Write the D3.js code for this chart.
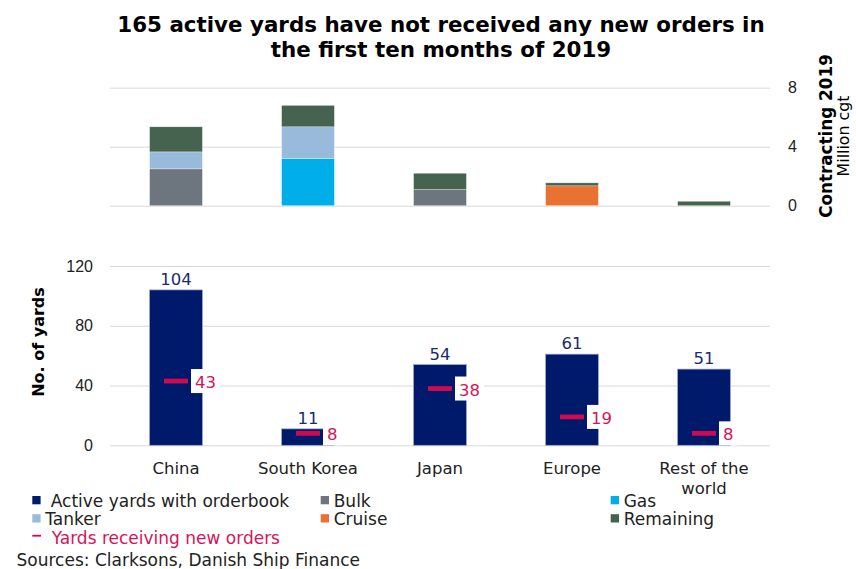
<!DOCTYPE html>
<html>
<head>
<meta charset="utf-8">
<script src="https://cdn.jsdelivr.net/npm/d3@7"></script>
<style>
  body { margin: 0; background: #fff; }
  svg { font-family: "DejaVu Sans", Verdana, sans-serif; }
  .grid line { stroke: #d9d9d9; }
  .grid path { display: none; }
  .grid text { font-size: 16px; fill: #222; }
</style>
</head>
<body>
<div class="chart-area"></div>
<script>
// ---- Data ----
const regions = ["China", "South Korea", "Japan", "Europe", "Rest of the world"];
const regionLabels = [["China"], ["South Korea"], ["Japan"], ["Europe"], ["Rest of the", "world"]];
const activeYards = [104, 11, 54, 61, 51];
const newOrderYards = [43, 8, 38, 19, 8];

// contracting 2019, million cgt
const bulk = [2.5, 0, 1.1, 0, 0];
const gas = [0, 3.2, 0, 0, 0];
const tanker = [1.15, 2.15, 0, 0, 0];
const cruise = [0, 0, 0, 1.35, 0];
const remaining = [1.7, 1.45, 1.1, 0.2, 0.3];

const segmentNames = ["Bulk", "Gas", "Tanker", "Cruise", "Remaining"];
const contractTicks = [0, 4, 8];
const yardTicks = [0, 40, 80, 120];

// ---- Sizes ----
const svgWidth = 856, svgHeight = 569;
const plotLeft = 110, plotRight = 770;

const segColor = {
    Bulk: "#6d757f",
    Gas: "#00aeea",
    Tanker: "#99bbdb",
    Cruise: "#e97132",
    Remaining: "#45634e"
};
const navy = "#001a6b";
const red = "#cf0a50";

const svg = d3.select(".chart-area").append("svg")
    .attr("width", svgWidth)
    .attr("height", svgHeight);

// Title
svg.append("text")
    .attr("x", 441).attr("y", 32)
    .attr("text-anchor", "middle")
    .style("font-size", "21.4px").style("font-weight", "bold")
    .text("165 active yards have not received any new orders in");
svg.append("text")
    .attr("x", 441).attr("y", 57)
    .attr("text-anchor", "middle")
    .style("font-size", "21.4px").style("font-weight", "bold")
    .text("the first ten months of 2019");

// Shared band scale
const x = d3.scaleBand()
    .domain(regions)
    .range([plotLeft, plotRight])
    .paddingInner(0.6)
    .paddingOuter(0.3);

// ---- Top: stacked contracting ----
const yTop = d3.scaleLinear().domain([0, 8]).range([205.7, 87.7]);

svg.append("g")
    .attr("class", "grid")
    .attr("transform", `translate(${plotRight},0)`)
    .call(d3.axisRight(yTop).tickValues(contractTicks)
        .tickSize(-(plotRight - plotLeft)).tickPadding(18));

const stackRows = regions.map((r, i) => ({
    region: r,
    Bulk: bulk[i], Gas: gas[i], Tanker: tanker[i], Cruise: cruise[i], Remaining: remaining[i]
}));
const stacked = d3.stack().keys(segmentNames)(stackRows);

svg.append("g").selectAll("g")
    .data(stacked)
    .join("g")
    .attr("fill", d => segColor[d.key])
    .selectAll("rect")
    .data(d => d.filter(s => s[1] - s[0] > 0))
    .join("rect")
    .attr("x", d => x(d.data.region))
    .attr("width", x.bandwidth())
    .attr("y", d => yTop(d[1]))
    .attr("height", d => yTop(d[0]) - yTop(d[1]))
    .attr("stroke", "#ffffff")
    .attr("stroke-opacity", 0.5)
    .attr("stroke-width", 0.6);

// right axis titles
svg.append("text")
    .attr("transform", "translate(832,136) rotate(-90)")
    .attr("text-anchor", "middle")
    .style("font-size", "16.8px").style("font-weight", "bold")
    .text("Contracting 2019");
svg.append("text")
    .attr("transform", "translate(849,136) rotate(-90)")
    .attr("text-anchor", "middle")
    .style("font-size", "15.8px")
    .text("Million cgt");

// ---- Bottom: yards ----
const yBot = d3.scaleLinear().domain([0, 120]).range([445.3, 266]);

svg.append("g")
    .attr("class", "grid")
    .attr("transform", `translate(${plotLeft},0)`)
    .call(d3.axisLeft(yBot).tickValues(yardTicks)
        .tickSize(-(plotRight - plotLeft)).tickPadding(17));

svg.append("text")
    .attr("transform", "translate(44,342) rotate(-90)")
    .attr("text-anchor", "middle")
    .style("font-size", "16px").style("font-weight", "bold")
    .text("No. of yards");

const yardData = regions.map((r, i) => ({ region: r, active: activeYards[i], orders: newOrderYards[i] }));

svg.append("g").selectAll("rect")
    .data(yardData)
    .join("rect")
    .attr("x", d => x(d.region))
    .attr("width", x.bandwidth())
    .attr("y", d => yBot(d.active))
    .attr("height", d => yBot(0) - yBot(d.active))
    .attr("fill", navy)
    .attr("stroke", "#9aa6c8")
    .attr("stroke-width", 0.7);

// value labels
svg.append("g").selectAll("text")
    .data(yardData)
    .join("text")
    .attr("x", d => x(d.region) + x.bandwidth() / 2)
    .attr("y", d => yBot(d.active) - 5)
    .attr("text-anchor", "middle")
    .style("font-size", "16.5px")
    .attr("fill", "#1b2a70")
    .text(d => d.active);

// new order markers
svg.append("g").selectAll("rect")
    .data(yardData)
    .join("rect")
    .attr("x", d => x(d.region) + x.bandwidth() / 2 - 12)
    .attr("y", d => yBot(d.orders) - 2.4)
    .attr("width", 24)
    .attr("height", 4.8)
    .attr("fill", red);

const orderLabels = svg.append("g").selectAll("g")
    .data(yardData)
    .join("g")
    .attr("transform", d => `translate(${x(d.region) + x.bandwidth() / 2 + 15},${yBot(d.orders)})`);

orderLabels.append("text")
    .attr("x", 4)
    .attr("y", 7)
    .style("font-size", "16.5px")
    .attr("fill", "#d4145a")
    .text(d => d.orders);

orderLabels.insert("rect", "text")
    .attr("x", 0)
    .attr("y", -12)
    .attr("height", 24)
    .attr("width", function() {
        return this.parentNode.querySelector("text").getComputedTextLength() + 8;
    })
    .attr("fill", "#fff");

// x labels
svg.append("g").selectAll("text")
    .data(regions)
    .join("text")
    .attr("x", d => x(d) + x.bandwidth() / 2)
    .attr("y", 474)
    .attr("text-anchor", "middle")
    .style("font-size", "16.5px")
    .attr("fill", "#222")
    .each(function(d, i) {
        d3.select(this).selectAll("tspan")
            .data(regionLabels[i])
            .join("tspan")
            .attr("x", x(d) + x.bandwidth() / 2)
            .attr("dy", (t, j) => j === 0 ? 0 : 19.5)
            .text(t => t);
    });

// ---- Legend ----
const legendItems = [
    { label: " Active yards with orderbook", color: navy, col: 0, row: 0 },
    { label: "Bulk", color: segColor.Bulk, col: 1, row: 0 },
    { label: "Gas", color: segColor.Gas, col: 2, row: 0 },
    { label: "Tanker", color: segColor.Tanker, col: 0, row: 1 },
    { label: "Cruise", color: segColor.Cruise, col: 1, row: 1 },
    { label: "Remaining", color: segColor.Remaining, col: 2, row: 1 }
];
const legendCols = [32.3, 320.7, 610.7];
const legendRows = [496, 514.2];

const legend = svg.append("g").attr("class", "legend");
const li = legend.selectAll("g")
    .data(legendItems)
    .join("g")
    .attr("transform", d => `translate(${legendCols[d.col]},${legendRows[d.row]})`);
li.append("rect")
    .attr("width", 8.3).attr("height", 8.3)
    .attr("fill", d => d.color);
li.append("text")
    .attr("x", 13)
    .attr("y", 10.5)
    .style("font-size", "17px")
    .style("white-space", "pre")
    .attr("xml:space", "preserve")
    .attr("fill", "#222")
    .text(d => d.label);

legend.append("rect")
    .attr("x", 32.3).attr("y", 534.8)
    .attr("width", 8.7).attr("height", 1.8)
    .attr("fill", red);
legend.append("text")
    .attr("x", 51.7).attr("y", 543.5)
    .style("font-size", "17px")
    .attr("fill", "#d4145a")
    .text("Yards receiving new orders");

svg.append("text")
    .attr("x", 16.5).attr("y", 566)
    .style("font-size", "17px")
    .attr("fill", "#222")
    .text("Sources: Clarksons, Danish Ship Finance");
</script>
</body>
</html>
